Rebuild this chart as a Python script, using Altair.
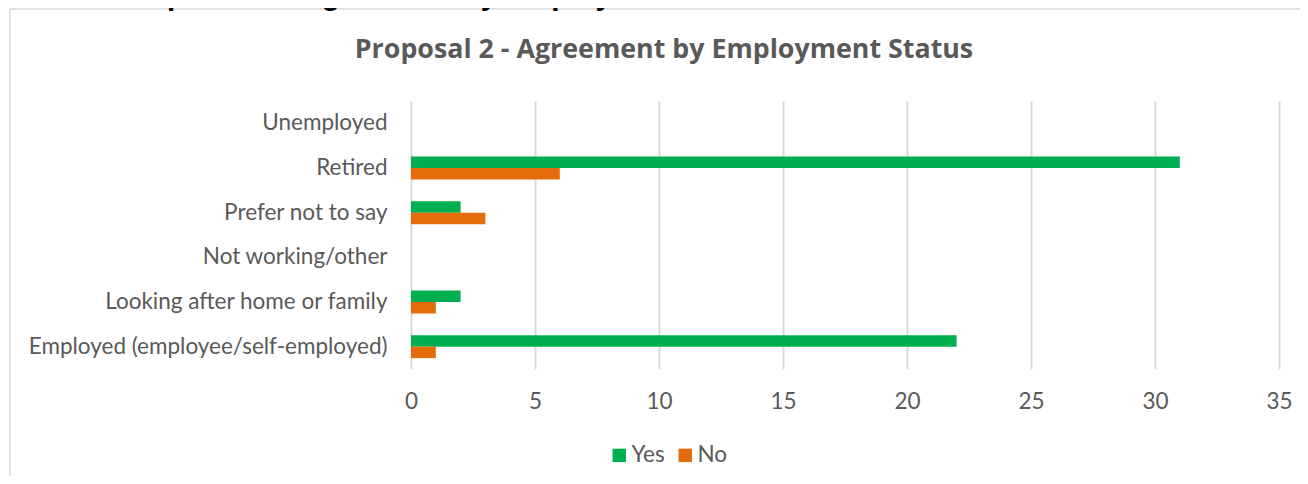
import altair as alt
import pandas as pd

categories = [
    "Unemployed",
    "Retired",
    "Prefer not to say",
    "Not working/other",
    "Looking after home or family",
    "Employed (employee/self-employed)",
]
yes_values = [0, 31, 2, 0, 2, 22]
no_values = [0, 6, 3, 0, 1, 1]
series = ["Yes", "No"]
colors = ["#00B050", "#E46C0A"]
x_ticks = [0, 5, 10, 15, 20, 25, 30, 35]
chart_title = "Proposal 2 - Agreement by Employment Status"
page_heading = "Chart 6 Proposal 2 \u2013 Agreement by Employment Status"

rows = []
for c, yv, nv in zip(categories, yes_values, no_values):
    rows.append({"Status": c, "Response": "Yes", "Count": yv})
    rows.append({"Status": c, "Response": "No", "Count": nv})
df = pd.DataFrame(rows)

W, H = 868, 268
LEFT, TOP = 403, 93
TOTAL_W, TOTAL_H = 1292, 468
FONT = "Lato"
GRAY = "#595959"
LABEL_SIZE = 22.5

bars = alt.Chart(df).mark_bar().encode(
    y=alt.Y(
        "Status:N",
        sort=categories,
        scale=alt.Scale(paddingInner=0.485, paddingOuter=0.2425),
        axis=alt.Axis(
            title=None, ticks=False, tickSize=0, domain=False, grid=False,
            labelPadding=24, labelFontSize=LABEL_SIZE, labelColor=GRAY,
            labelFont=FONT, labelLimit=500,
        ),
    ),
    yOffset=alt.YOffset("Response:N", sort=series,
                        scale=alt.Scale(paddingInner=0, paddingOuter=0)),
    x=alt.X(
        "Count:Q",
        scale=alt.Scale(domain=[0, 35], nice=False, zero=True),
        axis=alt.Axis(
            title=None, values=x_ticks, ticks=False, tickSize=0, domain=False,
            grid=True, gridColor="#D9D9D9", gridWidth=2, labelFlush=False,
            labelPadding=32, labelBaseline="middle", labelFontSize=LABEL_SIZE,
            labelColor=GRAY, labelFont=FONT,
        ),
    ),
    color=alt.Color(
        "Response:N",
        sort=series,
        scale=alt.Scale(domain=series, range=colors),
        legend=alt.Legend(
            title=None, orient="none", direction="horizontal",
            legendX=197, legendY=343,
            symbolType="square", symbolSize=180, symbolStrokeWidth=0,
            labelFontSize=LABEL_SIZE, labelColor=GRAY, labelFont=FONT,
            labelOffset=1, columnPadding=9,
        ),
    ),
)

title_mark = alt.Chart(pd.DataFrame({"t": [chart_title]})).mark_text(
    font="Open Sans", fontSize=26.8, fontWeight="bold", color=GRAY,
    align="center", baseline="alphabetic",
).encode(text="t:N", x=alt.value(253), y=alt.value(-43))

heading_mark = alt.Chart(pd.DataFrame({"t": [page_heading]})).mark_text(
    font="Liberation Sans", fontSize=29.5, fontWeight="bold", color="#000000",
    align="left", baseline="alphabetic",
).encode(text="t:N", x=alt.value(-403), y=alt.value(-96))

border_top = alt.Chart(pd.DataFrame({"k": [0]})).mark_rule(
    color="#D9D9D9", strokeWidth=1.5
).encode(x=alt.value(-401), x2=alt.value(TOTAL_W - LEFT + 8), y=alt.value(-92))

border_left = alt.Chart(pd.DataFrame({"k": [0]})).mark_rule(
    color="#D9D9D9", strokeWidth=1.5
).encode(x=alt.value(-401), y=alt.value(-92), y2=alt.value(TOTAL_H - TOP + 8))

chart = alt.layer(border_top, border_left, heading_mark, title_mark, bars).properties(
    width=W,
    height=H,
    autosize=alt.AutoSizeParams(type="none"),
    padding={"left": LEFT, "top": TOP, "right": TOTAL_W - LEFT - W, "bottom": TOTAL_H - TOP - H},
    background="white",
).configure_view(stroke=None)

chart.save("out.html", embed_options={"renderer": "svg", "actions": False})
